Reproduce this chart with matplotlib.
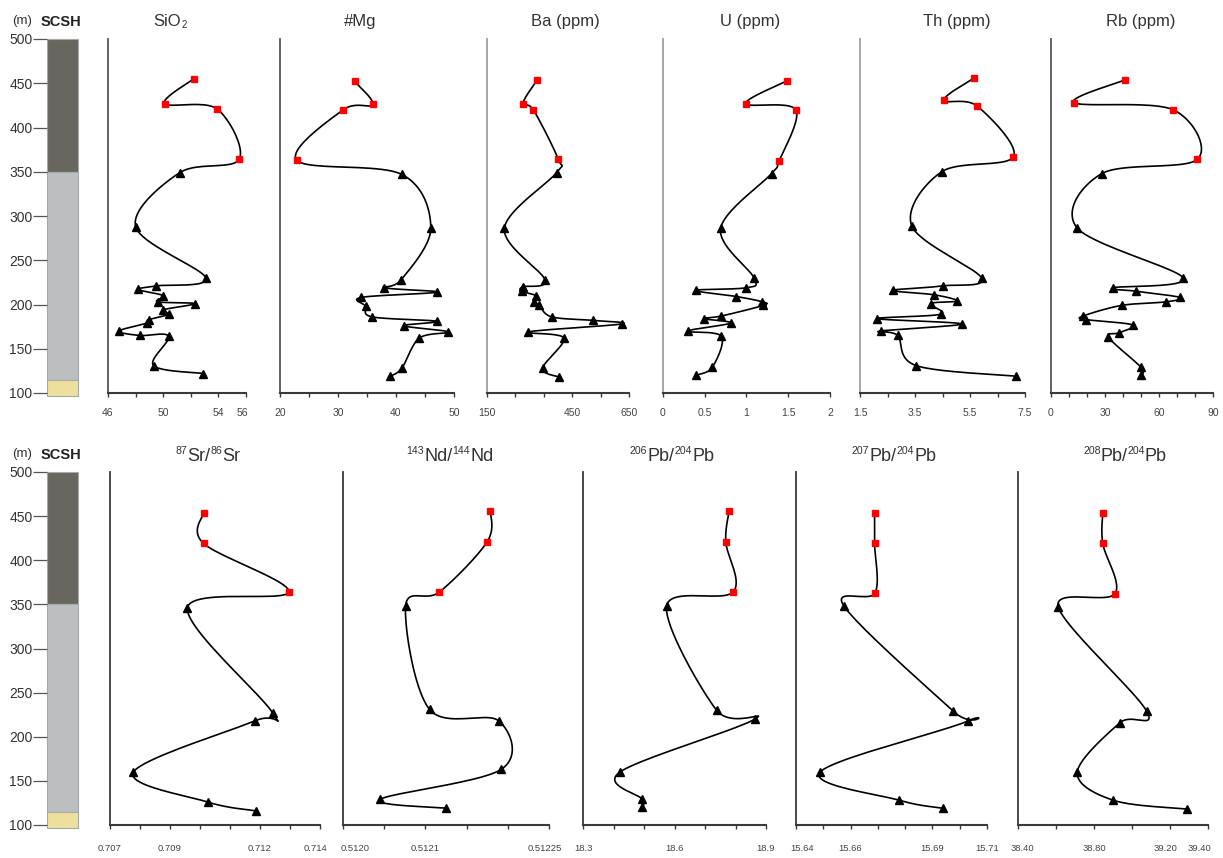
import numpy as np
import matplotlib
matplotlib.use("Agg")
import matplotlib.pyplot as plt
from matplotlib.transforms import ScaledTranslation

plt.rcParams['font.family'] = ['Liberation Sans', 'DejaVu Sans']

# ---------------- data (depth in m, values per sample, top to bottom) ----------------
sio2_depth = [455, 427, 421, 364, 349, 288, 230, 221, 217, 210, 203, 201, 194, 189, 183, 179, 170, 165, 164, 131, 122]
sio2 = [52.2, 50.1, 53.9, 55.5, 51.2, 48.0, 53.1, 49.5, 48.2, 50.0, 49.6, 52.3, 50.0, 50.4, 49.0, 48.8, 46.8, 48.3, 50.4, 49.3, 52.9]

mg_depth = [452, 426, 420, 363, 347, 286, 228, 219, 214, 208, 198, 186, 181, 176, 169, 162, 128, 119]
mg = [32.9, 36.0, 30.9, 22.9, 41.0, 46.0, 40.9, 38.0, 47.1, 34.0, 34.8, 35.9, 47.1, 41.3, 49.0, 44.0, 41.0, 39.0]

ba_depth = [454, 427, 420, 364, 349, 286, 228, 220, 215, 210, 203, 199, 186, 182, 178, 169, 162, 128, 118]
ba = [327, 276, 313, 401, 395, 211, 354, 276, 272, 322, 317, 334, 378, 524, 624, 296, 421, 346, 405]

u_depth = [453, 427, 420, 362, 348, 286, 230, 219, 216, 209, 203, 199, 187, 184, 179, 170, 164, 129, 120]
u = [1.49, 0.99, 1.59, 1.39, 1.30, 0.69, 1.09, 1.00, 0.39, 0.88, 1.19, 1.20, 0.70, 0.49, 0.81, 0.30, 0.70, 0.59, 0.39]

th_depth = [456, 431, 424, 367, 350, 289, 230, 221, 216, 211, 204, 201, 189, 184, 178, 170, 165, 131, 119]
th = [5.65, 4.55, 5.77, 7.08, 4.47, 3.38, 5.92, 4.50, 2.69, 4.19, 5.04, 4.07, 4.43, 2.13, 5.20, 2.25, 2.87, 3.54, 7.16]

rb_depth = [454, 428, 420, 364, 348, 287, 230, 219, 215, 208, 203, 199, 187, 183, 177, 168, 163, 129, 120]
rb = [41.3, 12.9, 67.9, 81.3, 28.3, 14.3, 73.5, 34.6, 47.2, 71.7, 63.9, 39.3, 17.9, 19.4, 45.4, 37.9, 31.9, 50.0, 50.0]

sr_depth = [454, 419, 364, 346, 227, 218, 160, 126, 116]
sr = [0.71012, 0.71012, 0.71296, 0.70958, 0.71242, 0.71183, 0.70778, 0.71026, 0.71186]

nd_depth = [456, 421, 364, 348, 231, 218, 163, 129, 119]
nd = [0.512179, 0.512175, 0.512117, 0.512076, 0.512105, 0.512189, 0.512192, 0.512045, 0.512125]

pb206_depth = [456, 421, 364, 348, 230, 220, 160, 129, 120]
pb206 = [18.779, 18.768, 18.792, 18.574, 18.738, 18.863, 18.421, 18.495, 18.492]

pb207_depth = [454, 419, 363, 348, 229, 218, 160, 128, 119]
pb207 = [15.6688, 15.6688, 15.6690, 15.6576, 15.6976, 15.7031, 15.6488, 15.6779, 15.6938]

pb208_depth = [454, 419, 362, 347, 229, 216, 160, 128, 118]
pb208 = [38.846, 38.846, 38.910, 38.612, 39.077, 38.937, 38.712, 38.902, 39.291]

# stratigraphic column (SCSH)
unit_top = [500, 350, 115]
unit_base = [350, 115, 97]
unit_color = ['#67665f', '#bdbec0', '#ede09c']
depth_ticks = [100, 150, 200, 250, 300, 350, 400, 450, 500]
unit_boundary = 350  # samples above this are plotted as red squares

# ---------------- figure ----------------
W, H = 1223, 858
fig = plt.figure(figsize=(W / 100, H / 100), dpi=100)
renderer = fig.canvas.get_renderer()

TXT = '#333333'


def axes_px(x0, x1, y_top, y_bot):
    return fig.add_axes([x0 / W, 1 - y_bot / H, (x1 - x0) / W, (y_bot - y_top) / H])


def rich_text(xc, yc, parts, size, color=TXT):
    """Centred label built from pieces; each piece is (text, kind) with kind None/'sup'/'sub'."""
    px = size * 100 / 72.0
    base = yc + 0.36 * px  # baseline in pixels from the top
    objs = []
    total = 0.0
    for txt, kind in parts:
        s = size * (0.58 if kind else 1.0)
        t = fig.text(0, 0, txt, fontsize=s, color=color, ha='left', va='baseline')
        w = t.get_window_extent(renderer).width
        objs.append((t, kind, w))
        total += w
    x = xc - total / 2.0
    for t, kind, w in objs:
        y = base
        if kind == 'sup':
            y = base - 0.42 * px
        elif kind == 'sub':
            y = base + 0.12 * px
        t.set_position((x / W, 1 - y / H))
        x += w


def catmull(pts, n=24):
    """Smooth curve through points (display coords), Bezier form of Catmull-Rom."""
    p = np.vstack([pts[0], pts, pts[-1]])
    out = [pts[0]]
    t = np.linspace(0, 1, n)[1:, None]
    for i in range(1, len(p) - 2):
        p0, p1, p2, p3 = p[i - 1], p[i], p[i + 1], p[i + 2]
        c1 = p1 + (p2 - p0) / 6.0
        c2 = p2 - (p3 - p1) / 6.0
        seg = ((1 - t) ** 3) * p1 + 3 * ((1 - t) ** 2) * t * c1 + 3 * (1 - t) * t ** 2 * c2 + t ** 3 * p2
        out.extend(seg)
    return np.array(out)


def profile(ax, values, depths, xlim, ticks, labels, shifts, spine_col, label_pad, label_size):
    ax.set_xlim(*xlim)
    ax.set_ylim(100, 500)
    for s in ['top', 'right']:
        ax.spines[s].set_visible(False)
    ax.spines['left'].set_color(spine_col)
    ax.spines['left'].set_linewidth(1.3)
    ax.spines['bottom'].set_color('#3a3a3a')
    ax.spines['bottom'].set_linewidth(1.5)
    ax.set_yticks([])
    ax.set_xticks(ticks)
    ax.set_xticklabels([labels.get(i, '') for i in range(len(ticks))])
    ax.tick_params(axis='x', direction='out', length=3, width=1, color='#3a3a3a',
                   labelsize=label_size, labelcolor='#444444', pad=label_pad)
    # nudge crowded end labels sideways (pixels)
    for i, lab in enumerate(ax.get_xticklabels()):
        if i in shifts:
            lab.set_transform(lab.get_transform() +
                              ScaledTranslation(shifts[i] / 100.0, 0, fig.dpi_scale_trans))
    ax.patch.set_alpha(0)

    v = np.asarray(values, float)
    d = np.asarray(depths, float)
    disp = ax.transData.transform(np.column_stack([v, d]))
    curve = ax.transData.inverted().transform(catmull(disp))
    ax.plot(curve[:, 0], curve[:, 1], color='black', lw=1.2, zorder=2, clip_on=False)
    upper = d > unit_boundary
    ax.plot(v[~upper], d[~upper], ls='none', marker='^', ms=5.5, mfc='black', mec='black',
            zorder=3, clip_on=False)
    ax.plot(v[upper], d[upper], ls='none', marker='s', ms=5, mfc='#ff0000', mec='#ff0000',
            zorder=3, clip_on=False)


def column(y_top, y_bot, text_y):
    ax = axes_px(47, 78, y_top, y_bot)
    ax.set_xlim(-0.5, 0.5)
    ax.set_ylim(100, 500)
    for t, b, c in zip(unit_top, unit_base, unit_color):
        ax.bar(0, t - b, bottom=b, width=1.0, color=c, edgecolor='#a8a8a8', lw=0.8,
               clip_on=False)
    for s in ax.spines.values():
        s.set_visible(False)
    ax.set_xticks([])
    ax.set_yticks(depth_ticks)
    ax.tick_params(axis='y', direction='out', length=10, width=0.9, color='#555555',
                   labelsize=10, labelcolor=TXT, pad=0.5)
    fig.text(22 / W, 1 - text_y / H, '(m)', ha='center', va='center', fontsize=9.5, color=TXT)
    fig.text(61 / W, 1 - (text_y + 1) / H, 'SCSH', ha='center', va='center', fontsize=10.5,
             fontweight='bold', color='#222222')


# ---------------- top row ----------------
TOP, BOT = 39, 393
column(TOP, BOT, 21)

top_panels = [
    (108, 246, sio2, sio2_depth, (46, 56), [46, 48, 50, 52, 54, 56], {0: '46', 2: '50', 4: '54', 5: '56'}, {5: -4},
     '#555555', [('SiO', None), ('2', 'sub')], 170),
    (280, 454, mg, mg_depth, (20, 50), [20, 25, 30, 35, 40, 45, 50], {0: '20', 2: '30', 4: '40', 6: '50'}, {},
     '#555555', [('#Mg', None)], 360),
    (487, 629, ba, ba_depth, (150, 650), [150, 250, 350, 450, 550, 650], {0: '150', 3: '450', 5: '650'}, {},
     '#a0a0a0', [('Ba (ppm)', None)], 565),
    (663, 830, u, u_depth, (0, 2), [0, 0.5, 1, 1.5, 2], {0: '0', 1: '0.5', 2: '1', 3: '1.5', 4: '2'}, {},
     '#a0a0a0', [('U (ppm)', None)], 750),
    (860, 1025, th, th_depth, (1.5, 7.5), [1.5, 2.5, 3.5, 4.5, 5.5, 6.5, 7.5], {0: '1.5', 2: '3.5', 4: '5.5', 6: '7.5'}, {},
     '#a0a0a0', [('Th (ppm)', None)], 957),
    (1051, 1213, rb, rb_depth, (0, 90), list(range(0, 91, 10)), {0: '0', 3: '30', 6: '60', 9: '90'}, {},
     '#555555', [('Rb (ppm)', None)], 1141),
]
for x0, x1, vals, deps, lim, ticks, labs, shifts, sc, title, tx in top_panels:
    ax = axes_px(x0, x1, TOP, BOT)
    profile(ax, vals, deps, lim, ticks, labs, shifts, sc, 8, 7.5)
    rich_text(tx, 20, title, 12)

# ---------------- bottom row ----------------
TOP2, BOT2 = 472, 825
column(TOP2, BOT2, 454)

bot_panels = [
    (110, 320, sr, sr_depth, (0.707, 0.714), list(np.linspace(0.707, 0.714, 8)), {0: '0.707', 2: '0.709', 5: '0.712', 7: '0.714'}, {7: -5},
     '#3a3a3a', [('87', 'sup'), ('Sr/', None), ('86', 'sup'), ('Sr', None)], 208),
    (343, 549, nd, nd_depth, (0.5120, 0.51225), list(np.linspace(0.5120, 0.51225, 6)), {0: '0.5120', 2: '0.5121', 5: '0.51225'}, {0: 12, 5: -4},
     '#3a3a3a', [('143', 'sup'), ('Nd/', None), ('144', 'sup'), ('Nd', None)], 450),
    (583, 766, pb206, pb206_depth, (18.3, 18.9), list(np.linspace(18.3, 18.9, 7)), {0: '18.3', 3: '18.6', 6: '18.9'}, {},
     '#3a3a3a', [('206', 'sup'), ('Pb/', None), ('204', 'sup'), ('Pb', None)], 672),
    (796, 987, pb207, pb207_depth, (15.64, 15.71), list(np.linspace(15.64, 15.71, 8)), {0: '15.64', 2: '15.66', 5: '15.69', 7: '15.71'}, {0: 6},
     '#3a3a3a', [('207', 'sup'), ('Pb/', None), ('204', 'sup'), ('Pb', None)], 894),
    (1018, 1208, pb208, pb208_depth, (38.40, 39.40), list(np.linspace(38.4, 39.4, 6)), {0: '38.40', 2: '38.80', 4: '39.20', 5: '39.40'}, {0: 4, 4: -4, 5: -9},
     '#3a3a3a', [('208', 'sup'), ('Pb/', None), ('204', 'sup'), ('Pb', None)], 1125),
]
for x0, x1, vals, deps, lim, ticks, labs, shifts, sc, title, tx in bot_panels:
    ax = axes_px(x0, x1, TOP2, BOT2)
    profile(ax, vals, deps, lim, ticks, labs, shifts, sc, 11, 6.8)
    rich_text(tx, 455, title, 13)

fig.savefig('out.png', dpi=100)
